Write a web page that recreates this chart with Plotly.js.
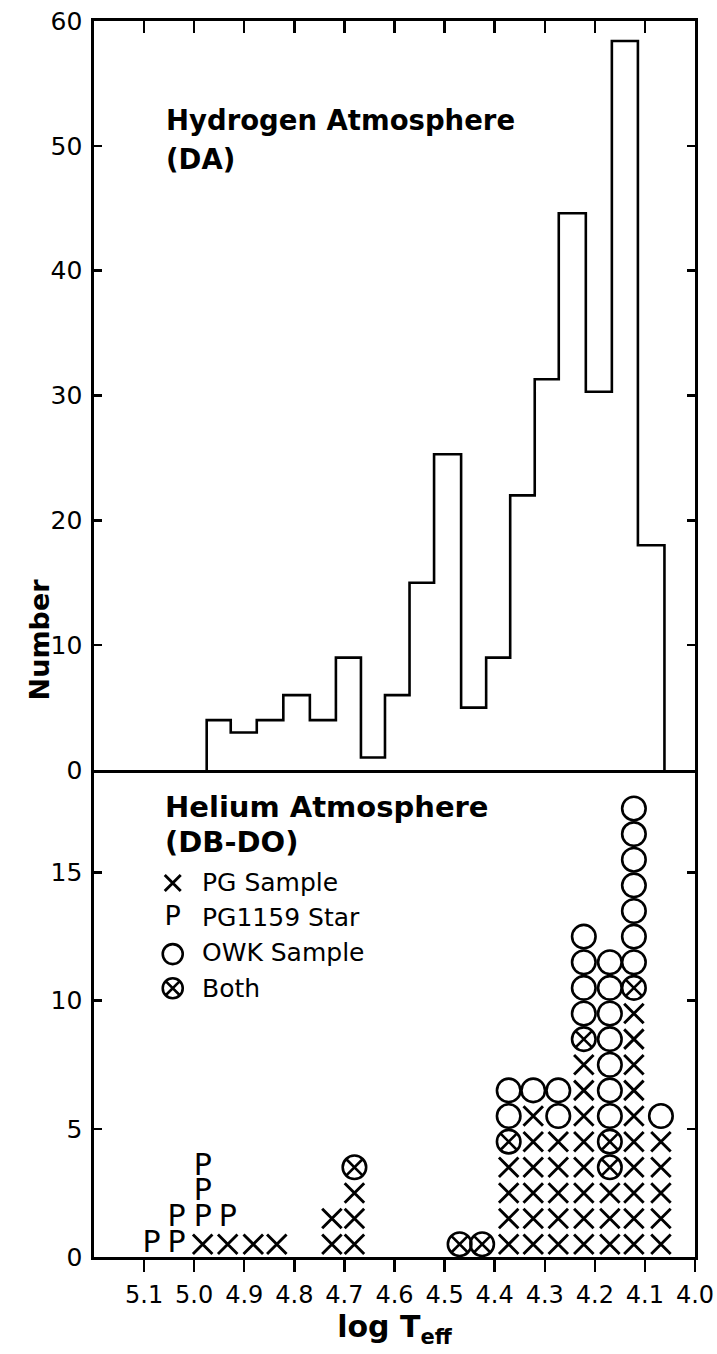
<!DOCTYPE html>
<html>
<head>
<meta charset="utf-8">
<script src="https://cdn.plot.ly/plotly-3.0.1.min.js"></script>
<style>html,body{margin:0;padding:0;background:#fff}</style>
</head>
<body>
<div id="chart" style="width:717px;height:1354px"></div>
<script>
// ---- Top panel: Hydrogen atmosphere (DA) histogram ----
// bin edges (log Teff, hot -> cool) and counts per bin
const daBinEdges = [4.975, 4.927, 4.875, 4.822, 4.769, 4.717, 4.667, 4.619, 4.570, 4.521,
                    4.467, 4.417, 4.369, 4.320, 4.272, 4.218, 4.166, 4.114, 4.061];
const daCounts   = [4, 3, 4, 6, 4, 9, 1, 6, 15, 25.3, 5, 9, 22, 31.3, 44.6, 30.3, 58.4, 18];

// ---- Bottom panel: Helium atmosphere (DB-DO) stacks ----
// X = PG Sample, P = PG1159 Star, O = OWK Sample, B = Both (stacked from the bottom)
const heColumns = [5.085, 5.035, 4.983, 4.933, 4.882, 4.835, 4.725, 4.68,
                   4.47, 4.425, 4.372, 4.323, 4.273, 4.222, 4.17, 4.122, 4.068];
const heStacks  = ["P", "PP", "XPPP", "XP", "X", "X", "XX", "XXXB", "B", "B",
                   "XXXXBOO", "XXXXXXO", "XXXXXOO", "XXXXXXXXBOOOO", "XXXBBOOOOOOO",
                   "XXXXXXXXXXBOOOOOOO", "XXXXXO"];

// ---- Axis ticks ----
const xTickVals = [5.1, 5.0, 4.9, 4.8, 4.7, 4.6, 4.5, 4.4, 4.3, 4.2, 4.1, 4.0];
const xTickText = ["5.1", "5.0", "4.9", "4.8", "4.7", "4.6", "4.5", "4.4", "4.3", "4.2", "4.1", "4.0"];
const daTickVals = [0, 10, 20, 30, 40, 50, 60];
const heTickVals = [0, 5, 10, 15];

// ---- Legend entries ----
const legendCodes  = ["X", "P", "O", "B"];
const legendLabels = ["PG Sample", "PG1159 Star", "OWK Sample", "Both"];

// ===== build =====
const FONT = "DejaVu Sans";
const INK = "#000";

// histogram step outline
const hx = [daBinEdges[0]];
const hy = [0];
daCounts.forEach((n, i) => { hx.push(daBinEdges[i]); hy.push(n); });
hx.push(daBinEdges[daBinEdges.length - 1]);
hy.push(0);

const pts = {X: {x: [], y: []}, P: {x: [], y: []}, O: {x: [], y: []}, B: {x: [], y: []}};
heColumns.forEach((c, i) => {
  heStacks[i].split("").forEach((s, k) => { pts[s].x.push(c); pts[s].y.push(k + 0.5); });
});

const markerStyle = {
  X: {symbol: "x-thin-open", size: 19.5, line: {width: 2.9, color: INK}, color: INK},
  O: {symbol: "circle-open", size: 23.5, line: {width: 2.6, color: INK}, color: INK},
  B: {symbol: "circle-x-open", size: 23.5, line: {width: 2.6, color: INK}, color: INK}
};

const traces = [
  {type: "scatter", mode: "lines", x: hx, y: hy, xaxis: "x2", yaxis: "y",
   line: {shape: "hv", color: INK, width: 2.6}, hoverinfo: "skip"},
  {type: "scatter", mode: "markers", x: pts.X.x, y: pts.X.y, xaxis: "x", yaxis: "y2", marker: markerStyle.X, cliponaxis: false},
  {type: "scatter", mode: "markers", x: pts.O.x, y: pts.O.y, xaxis: "x", yaxis: "y2", marker: markerStyle.O, cliponaxis: false},
  {type: "scatter", mode: "markers", x: pts.B.x, y: pts.B.y, xaxis: "x", yaxis: "y2", marker: markerStyle.B, cliponaxis: false},
  {type: "scatter", mode: "text", x: pts.P.x, y: pts.P.y, xaxis: "x", yaxis: "y2",
   text: pts.P.x.map(() => "P"), textposition: "middle center",
   textfont: {family: FONT, size: 30, color: INK}, cliponaxis: false}
];

// legend keys drawn on a hidden overlay axis of the bottom panel
const legKeyX = 0.131;
const legRowY = [0.768, 0.696, 0.622, 0.552];
legendCodes.forEach((code, i) => {
  if (code === "P") {
    traces.push({type: "scatter", mode: "text", x: [legKeyX], y: [legRowY[i]], xaxis: "x3", yaxis: "y3",
      text: ["P"], textposition: "middle center", textfont: {family: FONT, size: 27, color: INK}, cliponaxis: false});
  } else {
    const m = JSON.parse(JSON.stringify(markerStyle[code]));
    m.size = code === "X" ? 16 : 20;
    traces.push({type: "scatter", mode: "markers", x: [legKeyX], y: [legRowY[i]], xaxis: "x3", yaxis: "y3",
      marker: m, cliponaxis: false});
  }
});

const annotations = [
  {text: "Number", xref: "paper", yref: "paper", x: -0.12, y: 0.5, textangle: -90,
   showarrow: false, font: {family: FONT, size: 27, weight: "bold", color: INK}},
  {text: "Hydrogen Atmosphere", xref: "paper", yref: "paper", x: 0.117, y: 0.920, xanchor: "left", yanchor: "middle",
   showarrow: false, font: {family: FONT, size: 27.5, weight: "bold", color: INK}},
  {text: "(DA)", xref: "paper", yref: "paper", x: 0.117, y: 0.888, xanchor: "left", yanchor: "middle",
   showarrow: false, font: {family: FONT, size: 27.5, weight: "bold", color: INK}},
  {text: "Helium Atmosphere", xref: "paper", yref: "paper", x: 0.114, y: 0.364, xanchor: "left", yanchor: "middle",
   showarrow: false, font: {family: FONT, size: 29, weight: "bold", color: INK}},
  {text: "(DB-DO)", xref: "paper", yref: "paper", x: 0.114, y: 0.336, xanchor: "left", yanchor: "middle",
   showarrow: false, font: {family: FONT, size: 29, weight: "bold", color: INK}}
];
const legRowPaper = [0.3026, 0.2743, 0.2460, 0.2176];
legendLabels.forEach((lab, i) => {
  annotations.push({text: lab, xref: "paper", yref: "paper", x: 0.177, y: legRowPaper[i], xanchor: "left", yanchor: "middle",
    showarrow: false, font: {family: FONT, size: 25, color: INK}});
});

const axisCommon = {showgrid: false, zeroline: false, showline: true, linecolor: INK, linewidth: 2.6,
  tickcolor: INK, tickwidth: 2.4, tickfont: {family: FONT, size: 25, color: INK}, fixedrange: true};

const layout = {
  width: 717, height: 1354,
  margin: {l: 94, r: 22, t: 21, b: 97},
  paper_bgcolor: "#fff", plot_bgcolor: "#fff",
  showlegend: false,
  font: {family: FONT, color: INK},
  xaxis: Object.assign({}, axisCommon, {
    domain: [0, 1], anchor: "y2", range: [5.2, 4.0], tickmode: "array", tickvals: xTickVals, ticktext: xTickText,
    ticks: "outside", ticklen: 12, mirror: false, ticklabelstandoff: 3,
    tickfont: {family: FONT, size: 24, color: INK},
    title: {text: "log T<sub>eff</sub>", font: {family: FONT, size: 30, weight: "bold", color: INK}, standoff: 4}
  }),
  xaxis2: Object.assign({}, axisCommon, {
    domain: [0, 1], anchor: "y", range: [5.2, 4.0], tickmode: "array", tickvals: xTickVals,
    side: "top", ticks: "inside", ticklen: 12, showticklabels: false, mirror: true
  }),
  yaxis: Object.assign({}, axisCommon, {
    domain: [0.394, 1], anchor: "x2", range: [0, 60], tickmode: "array", tickvals: daTickVals,
    ticks: "inside", ticklen: 8, mirror: "ticks", ticklabelstandoff: 4
  }),
  yaxis2: Object.assign({}, axisCommon, {
    domain: [0, 0.394], anchor: "x", range: [0, 19], tickmode: "array", tickvals: heTickVals,
    ticks: "inside", ticklen: 8, mirror: "ticks", ticklabelstandoff: 4
  }),
  xaxis3: {overlaying: "x", range: [0, 1], visible: false, fixedrange: true},
  yaxis3: {overlaying: "y2", range: [0, 1], visible: false, fixedrange: true},
  annotations: annotations
};

Plotly.newPlot("chart", traces, layout, {staticPlot: true, displayModeBar: false});
</script>
</body>
</html>
